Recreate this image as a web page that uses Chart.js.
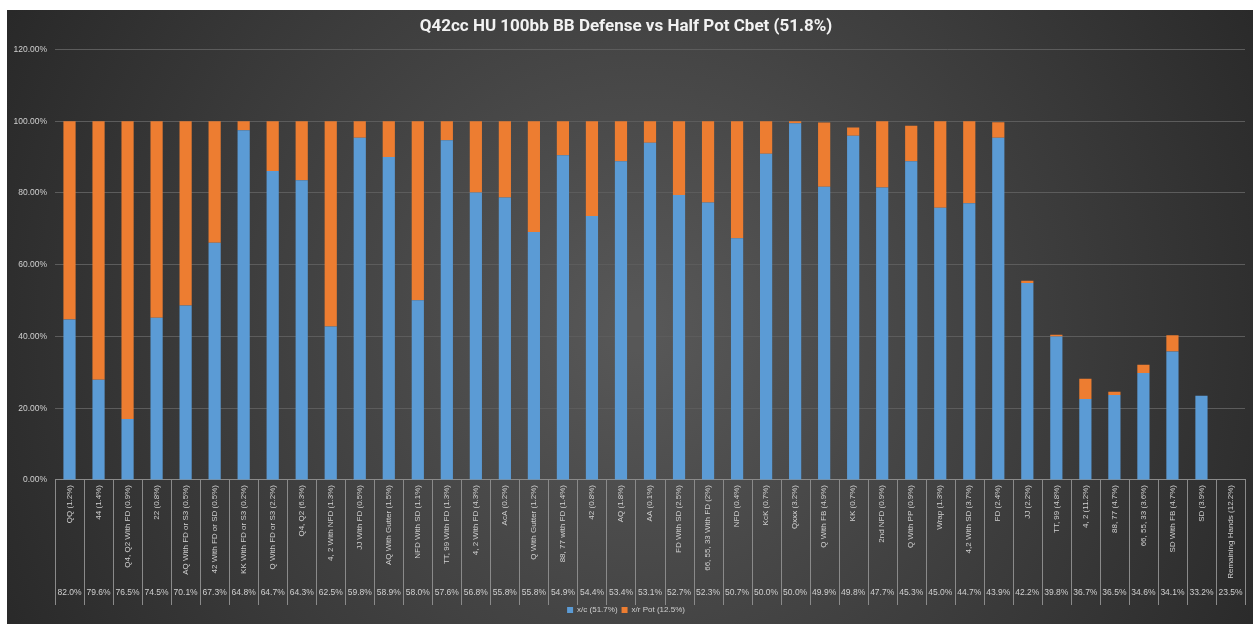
<!DOCTYPE html>
<html>
<head>
<meta charset="utf-8">
<script src="https://cdn.jsdelivr.net/npm/chart.js@4"></script>
<style>
  html, body { margin: 0; padding: 0; background: #fff; }
  #wrap { width: 1253px; height: 624px; }
</style>
</head>
<body>
<div id="wrap"><canvas id="myChart" width="1253" height="624"></canvas></div>
<script>
// categories (hand groups) and their share shown in the second label row
const hands = ['QQ (1.2%)', '44 (1.4%)', 'Q4, Q2 With FD (0.9%)', '22 (0.8%)', 'AQ With FD or S3 (0.5%)',
  '42 With FD or SD (0.5%)', 'KK With FD or S3 (0.2%)', 'Q With FD or S3 (2.2%)', 'Q4, Q2 (6.3%)',
  '4, 2 With NFD (1.3%)', 'JJ With FD (0.5%)', 'AQ With Gutter (1.5%)', 'NFD With SD (1.1%)',
  'TT, 99 With FD (1.3%)', '4, 2 With FD (4.3%)', 'AcA (0.2%)', 'Q With Gutter (1.2%)',
  '88, 77 with FD (1.4%)', '42 (0.8%)', 'AQ (1.8%)', 'AA (0.1%)', 'FD With SD (2.5%)',
  '66, 55, 33 With FD (2%)', 'NFD (0.4%)', 'KcK (0.7%)', 'Qxxx (3.2%)', 'Q With FB (4.9%)',
  'KK (0.7%)', '2nd NFD (0.9%)', 'Q With PP (0.9%)', 'Wrap (1.3%)', '4,2 With SD (3.7%)',
  'FD (2.4%)', 'JJ (2.2%)', 'TT, 99 (4.8%)', '4, 2 (11.2%)', '88, 77 (4.7%)', '66, 55, 33 (3.6%)',
  'SD With FB (4.7%)', 'SD (3.9%)', 'Remaining Hands (12.2%)'];

const equity = ['82.0%', '79.6%', '76.5%', '74.5%', '70.1%', '67.3%', '64.8%', '64.7%', '64.3%', '62.5%',
  '59.8%', '58.9%', '58.0%', '57.6%', '56.8%', '55.8%', '55.8%', '54.9%', '54.4%', '53.4%', '53.1%',
  '52.7%', '52.3%', '50.7%', '50.0%', '50.0%', '49.9%', '49.8%', '47.7%', '45.3%', '45.0%', '44.7%',
  '43.9%', '42.2%', '39.8%', '36.7%', '36.5%', '34.6%', '34.1%', '33.2%', '23.5%'];

// x/c share and x/r share (percent)
const checkCall = [44.7, 27.9, 17.0, 45.2, 48.6, 66.1, 97.5, 86.1, 83.5, 42.8, 95.4, 90.0, 50.1,
  94.7, 80.1, 78.7, 69.1, 90.5, 73.6, 88.8, 94.0, 79.4, 77.3, 67.4, 90.9, 99.4, 81.7, 95.9, 81.5,
  88.8, 75.9, 77.1, 95.4, 54.9, 40.0, 22.6, 23.7, 29.8, 35.8, 23.5, 0];
const checkRaise = [55.3, 72.1, 83.0, 54.8, 51.4, 33.9, 2.5, 13.9, 16.5, 57.2, 4.6, 10.0, 49.9,
  5.3, 19.9, 21.3, 30.9, 9.5, 26.4, 11.2, 6.0, 20.6, 22.7, 32.6, 9.1, 0.6, 17.9, 2.3, 18.5,
  9.9, 24.1, 22.9, 4.3, 0.6, 0.5, 5.6, 0.9, 2.3, 4.5, 0, 0];

const yTicks = [0, 20, 40, 60, 80, 100, 120];

const FONT = "'Liberation Sans', Arial, sans-serif";
const TXT = '#d0d0d0';

// dark excel-style background with a white margin top/left
const bgPlugin = {
  id: 'bg',
  beforeDraw(chart) {
    const c = chart.ctx;
    c.save();
    c.fillStyle = '#ffffff';
    c.fillRect(0, 0, chart.width, chart.height);
    const g = c.createRadialGradient(640, 330, 20, 640, 330, 720);
    g.addColorStop(0, '#575757');
    g.addColorStop(1, '#282828');
    c.fillStyle = g;
    c.fillRect(7, 10, chart.width - 7, chart.height - 10);
    c.restore();
  }
};

// vertical separators between categories in the label table
const tablePlugin = {
  id: 'table',
  afterDraw(chart) {
    const x = chart.scales.x, x2 = chart.scales.x2;
    const c = chart.ctx;
    const half = (x.getPixelForValue(1) - x.getPixelForValue(0)) / 2;
    c.save();
    c.strokeStyle = '#8a8a8a';
    c.lineWidth = 1;
    c.beginPath();
    for (let i = 0; i <= hands.length; i++) {
      const px = Math.round(x.getPixelForValue(i) - half) + 0.5;
      c.moveTo(px, chart.chartArea.bottom);
      c.lineTo(px, x2.bottom + 3);
    }
    c.stroke();
    c.restore();
  }
};

const ctx = document.getElementById('myChart').getContext('2d');
const chart = new Chart(ctx, {
  type: 'bar',
  data: {
    labels: hands,
    datasets: [{
      label: 'x/c (51.7%)',
      data: checkCall,
      backgroundColor: '#5b9bd5',
      barPercentage: 0.42,
      categoryPercentage: 1
    }, {
      label: 'x/r Pot (12.5%)',
      data: checkRaise,
      backgroundColor: '#ed7d31',
      barPercentage: 0.42,
      categoryPercentage: 1
    }]
  },
  options: {
    responsive: false,
    animation: false,
    layout: { padding: { left: 7, right: 8, top: 10, bottom: 0 } },
    scales: {
      x: {
        stacked: true,
        weight: 1,
        grid: { display: false, drawTicks: false },
        border: { color: '#8a8a8a' },
        ticks: {
          autoSkip: false,
          minRotation: 90,
          maxRotation: 90,
          padding: 5,
          color: TXT,
          font: { family: FONT, size: 8 }
        }
      },
      x2: {
        type: 'category',
        labels: equity,
        position: 'bottom',
        weight: 2,
        offset: true,
        grid: { display: false, drawTicks: false },
        border: { display: false },
        ticks: {
          autoSkip: false,
          maxRotation: 0,
          padding: 4,
          color: TXT,
          font: { family: FONT, size: 8.5 }
        }
      },
      y: {
        stacked: true,
        min: 0,
        max: 120,
        afterBuildTicks: axis => { axis.ticks = yTicks.map(v => ({ value: v })); },
        afterFit: axis => { axis.width = 48; },
        grid: { color: '#5c5c5c', drawTicks: false },
        border: { display: false },
        ticks: {
          padding: 8,
          color: TXT,
          font: { family: FONT, size: 8.5 },
          callback: v => v.toFixed(2) + '%'
        }
      }
    },
    plugins: {
      title: {
        display: true,
        text: 'Q42cc HU 100bb BB Defense vs Half Pot Cbet (51.8%)',
        color: '#f2f2f2',
        font: { family: "Roboto, 'Liberation Sans', sans-serif", size: 17, weight: 'bold' },
        padding: { top: 7, bottom: 12 }
      },
      legend: {
        position: 'bottom',
        labels: {
          color: TXT,
          boxWidth: 6,
          boxHeight: 6,
          padding: 4,
          font: { family: FONT, size: 8 }
        }
      },
      tooltip: { enabled: false }
    }
  },
  plugins: [bgPlugin, tablePlugin]
});
</script>
</body>
</html>
